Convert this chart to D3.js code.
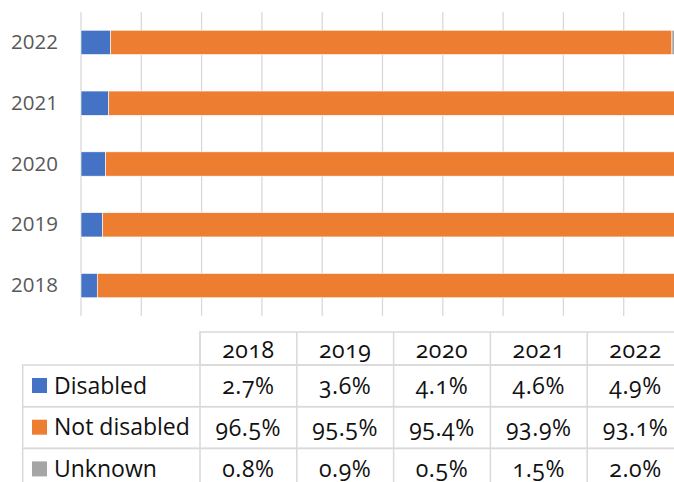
<!DOCTYPE html>
<meta charset="utf-8">
<title>Disability status by year</title>
<style>
  body { margin: 0; background: #fff; }
  svg { display: block; }
  .ylab { font-family: "Open Sans", sans-serif; font-size: 20.5px; fill: #595959; }
  .cell { font-family: "Open Sans", sans-serif; font-size: 23px; fill: #111;
          font-variant-numeric: oldstyle-nums; letter-spacing: 0.6px; }
  .key { font-family: "Open Sans", sans-serif; font-size: 23px; fill: #111; }
</style>
<body>
<script src="https://d3js.org/d3.v7.min.js"></script>
<script type="text/javascript">

// data
var years = ["2018", "2019", "2020", "2021", "2022"];
var disabled = [2.7, 3.6, 4.1, 4.6, 4.9];
var notDisabled = [96.5, 95.5, 95.4, 93.9, 93.1];
var unknown = [0.8, 0.9, 0.5, 1.5, 2.0];
var seriesNames = ["Disabled", "Not disabled", "Unknown"];
var colors = ["#4472C4", "#ED7D31", "#A5A5A5"];
var xTicks = [0, 10, 20, 30, 40, 50, 60, 70, 80, 90, 100];

var width = 674, height = 482;

var rows = years.map(function(y, i) {
  return { year: y, "Disabled": disabled[i], "Not disabled": notDisabled[i], "Unknown": unknown[i] };
});
var seriesValues = [disabled, notDisabled, unknown];

var svg = d3.select("body").append("svg")
    .attr("width", width)
    .attr("height", height);

// plot area
var x = d3.scaleLinear().domain([0, 100]).range([81, 684]);
var y = d3.scaleBand()
    .domain(years.slice().reverse())
    .range([12, 316])
    .paddingInner(0.6)
    .paddingOuter(0.3);

// gridlines
svg.append("g")
  .selectAll("line")
  .data(xTicks)
  .join("line")
    .attr("x1", function(d) { return x(d); })
    .attr("x2", function(d) { return x(d); })
    .attr("y1", 12)
    .attr("y2", 316)
    .attr("stroke", "#D9D9D9")
    .attr("stroke-width", 1.3);

// stacked bars
var stack = d3.stack().keys(seriesNames);
var layers = stack(rows);

svg.append("g")
  .selectAll("g")
  .data(layers)
  .join("g")
    .attr("fill", function(d, i) { return colors[i]; })
  .selectAll("rect")
  .data(function(d) { return d; })
  .join("rect")
    .attr("x", function(d) { return x(d[0]); })
    .attr("width", function(d) { return x(d[1]) - x(d[0]); })
    .attr("y", function(d) { return y(d.data.year); })
    .attr("height", y.bandwidth())
    .attr("stroke", "#fff")
    .attr("stroke-width", 0.6);

// category axis
var yAxis = d3.axisLeft(y).tickSize(0).tickPadding(0);
var ga = svg.append("g")
    .attr("transform", "translate(58,0)")
    .call(yAxis);
ga.select(".domain").remove();
ga.selectAll("text")
    .attr("class", "ylab")
    .attr("font-family", null)
    .attr("font-size", null)
    .attr("fill", null);

// data table
var colX = d3.scaleBand().domain(years).range([200, 684]);
var headTop = 332, rowTop = 365, rowH = 41.7;
var tbl = svg.append("g")
    .attr("stroke", "#D9D9D9")
    .attr("stroke-width", 1.5)
    .attr("fill", "none");

// header box
tbl.append("rect")
    .attr("x", 200).attr("y", headTop)
    .attr("width", 484).attr("height", rowTop - headTop);
// body rows
tbl.selectAll("rect.row")
  .data(seriesNames)
  .join("rect")
    .attr("class", "row")
    .attr("x", 22.7)
    .attr("y", function(d, i) { return rowTop + i * rowH; })
    .attr("width", 684 - 22.7)
    .attr("height", rowH);
// column separators
tbl.selectAll("line")
  .data(years)
  .join("line")
    .attr("x1", function(d) { return colX(d); })
    .attr("x2", function(d) { return colX(d); })
    .attr("y1", headTop)
    .attr("y2", rowTop + 3 * rowH);

// header labels
svg.append("g")
  .selectAll("text")
  .data(years)
  .join("text")
    .attr("class", "cell")
    .attr("text-anchor", "middle")
    .attr("x", function(d) { return colX(d) + colX.bandwidth() / 2; })
    .attr("y", headTop + 26)
    .text(function(d) { return d; });

var fmt = d3.format(".1f");

// rows: key, label, values
var rowG = svg.append("g")
  .selectAll("g")
  .data(seriesNames)
  .join("g")
    .attr("transform", function(d, i) { return "translate(0," + (rowTop + i * rowH) + ")"; });

rowG.append("rect")
    .attr("x", 32).attr("y", 13)
    .attr("width", 15).attr("height", 15)
    .attr("fill", function(d, i) { return colors[i]; });

rowG.append("text")
    .attr("class", "key")
    .attr("x", 54)
    .attr("y", 28.5)
    .text(function(d) { return d; });

rowG.selectAll("text.cell")
  .data(function(d, i) { return seriesValues[i].map(function(v, j) { return { v: v, year: years[j] }; }); })
  .join("text")
    .attr("class", "cell")
    .attr("text-anchor", "middle")
    .attr("x", function(d) { return colX(d.year) + colX.bandwidth() / 2; })
    .attr("y", 29)
    .text(function(d) { return fmt(d.v) + "%"; });

</script>
